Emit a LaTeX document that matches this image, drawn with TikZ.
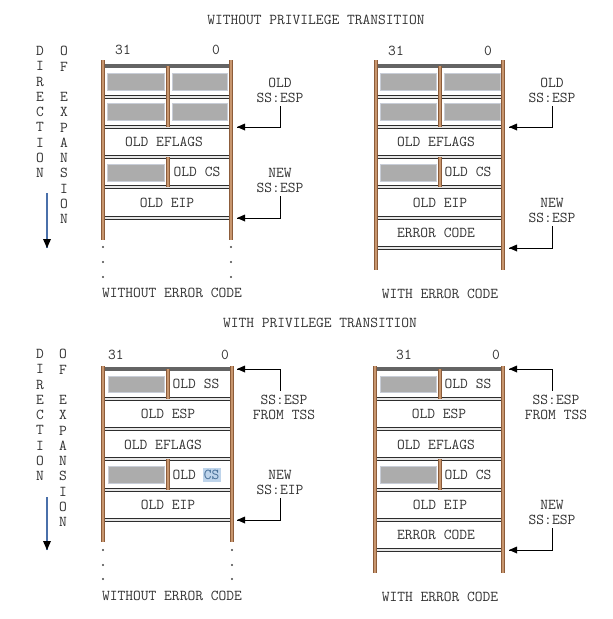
\documentclass[tikz,border=0pt]{standalone}
\usepackage{fontspec}

\tikzset{every picture/.style={line width=0.75pt}}
\tikzset{
  stacktxt/.style={text={rgb,255:red,50;green,50;blue,50}, font=\ttfamily\fontsize{11.3}{11.25}\selectfont, inner sep=0.75pt, align=center},
  lettercol/.style={stacktxt, font=\ttfamily\fontsize{11.3}{11.44}\selectfont, anchor=north},
  stackbar/.style={draw={rgb,255:red,140;green,92;blue,58}, double={rgb,255:red,200;green,150;blue,110}, line width=0.6pt, double distance=1.2pt},
  slotline/.style={draw={rgb,255:red,45;green,45;blue,45}, double={rgb,255:red,230;green,230;blue,230}, line width=0.8pt, double distance=0.8pt},
  topline/.style={draw={rgb,255:red,100;green,100;blue,100}, line width=2.4pt},
  padbox/.style={fill={rgb,255:red,172;green,172;blue,172}, draw={rgb,255:red,200;green,205;blue,215}, line width=0.4pt},
  tiphead/.style={fill={rgb,255:red,0;green,0;blue,0}, line width=0.08, draw opacity=0},
  dirline/.style={draw={rgb,255:red,74;green,112;blue,170}, line width=1.1pt},
  dotmark/.style={fill={rgb,255:red,70;green,70;blue,70}},
}

\begin{document}
\begin{tikzpicture}[x=0.75pt,y=0.75pt,yscale=-1,xscale=1]
\useasboundingbox (0,0) rectangle (612,619);

% ---------------- without privilege transition ----------------
% Text Node
\draw (316,20) node [stacktxt] (ttlNoPriv) {WITHOUT PRIVILEGE TRANSITION};
% Text Node
\draw (40,45) node [lettercol] (dirNoPriv) {D\\I\\R\\E\\C\\T\\I\\O\\N};
% Text Node
\draw (64,45) node [lettercol] (expNoPriv) {O\\F\\~\\E\\X\\P\\A\\N\\S\\I\\O\\N};
%Straight Lines
\coordinate (dirTipA) at (47,248);
\draw [dirline] (47,193) -- (dirTipA);
\draw [shift={(dirTipA)}, rotate=-90][tiphead] (9,-4) -- (0,0) -- (9,4) -- cycle;

%Shape: Rectangle (stack without error code)
\draw [padbox] (107,73) rectangle (164,90);
\draw [padbox] (172,73) rectangle (227,90);
\draw [padbox] (107,103) rectangle (164,120);
\draw [padbox] (172,103) rectangle (227,120);
\draw [padbox] (107,164) rectangle (164,181);
%Straight Lines
\draw [topline] (103,66) -- (231,66);
\draw [slotline] (103,97) -- (231,97);
\draw [slotline] (103,127) -- (231,127);
\draw [slotline] (103,157) -- (231,157);
\draw [slotline] (103,187) -- (231,187);
\draw [slotline] (103,218) -- (231,218);
\draw [stackbar] (168,66) -- (168,127);
\draw [stackbar] (168,157) -- (168,187);
\draw [stackbar] (103,60) -- (103,240);
\draw [stackbar] (231,60) -- (231,240);
%Shape: Circle
\fill [dotmark] (103,247) circle (1.1);
\fill [dotmark] (103,262) circle (1.1);
\fill [dotmark] (103,277) circle (1.1);
\fill [dotmark] (231,247) circle (1.1);
\fill [dotmark] (231,262) circle (1.1);
\fill [dotmark] (231,277) circle (1.1);
% Text Node
\draw (123,50) node [stacktxt] (hiA) {31};
\draw (216,50) node [stacktxt] (loA) {0};
\draw (164,142) node [stacktxt] (eflA) {OLD EFLAGS};
\draw (197,172) node [stacktxt] (csA) {OLD CS};
\draw (167,203) node [stacktxt] (eipA) {OLD EIP};
\draw (172,293) node [stacktxt] (capA) {WITHOUT ERROR CODE};
\draw (280,90) node [stacktxt] (oldEspA) {OLD\\SS:ESP};
\draw (280,180) node [stacktxt] (newEspA) {NEW\\SS:ESP};
%Straight Lines
\coordinate (tipA1) at (237,127);
\coordinate (tipA2) at (237,218);
\draw [shorten <=2pt] (oldEspA.south) |- (tipA1);
\draw [shift={(tipA1)}][tiphead] (8,-3.5) -- (0,0) -- (8,3.5) -- cycle;
\draw [shorten <=2pt] (newEspA.south) |- (tipA2);
\draw [shift={(tipA2)}][tiphead] (8,-3.5) -- (0,0) -- (8,3.5) -- cycle;

%Shape: Rectangle (stack with error code)
\draw [padbox] (380,73) rectangle (436,90);
\draw [padbox] (444,73) rectangle (500,90);
\draw [padbox] (380,103) rectangle (436,120);
\draw [padbox] (444,103) rectangle (500,120);
\draw [padbox] (380,164) rectangle (436,181);
%Straight Lines
\draw [topline] (376,66) -- (503,66);
\draw [slotline] (376,97) -- (503,97);
\draw [slotline] (376,127) -- (503,127);
\draw [slotline] (376,157) -- (503,157);
\draw [slotline] (376,187) -- (503,187);
\draw [slotline] (376,218) -- (503,218);
\draw [slotline] (376,248) -- (503,248);
\draw [stackbar] (440,66) -- (440,127);
\draw [stackbar] (440,157) -- (440,187);
\draw [stackbar] (376,60) -- (376,270);
\draw [stackbar] (503,60) -- (503,270);
% Text Node
\draw (396,51) node [stacktxt] (hiB) {31};
\draw (488,51) node [stacktxt] (loB) {0};
\draw (436,142) node [stacktxt] (eflB) {OLD EFLAGS};
\draw (468,172) node [stacktxt] (csB) {OLD CS};
\draw (440,203) node [stacktxt] (eipB) {OLD EIP};
\draw (436,233) node [stacktxt] (errB) {ERROR CODE};
\draw (440,294) node [stacktxt] (capB) {WITH ERROR CODE};
\draw (552,90) node [stacktxt] (oldEspB) {OLD\\SS:ESP};
\draw (552,210) node [stacktxt] (newEspB) {NEW\\SS:ESP};
%Straight Lines
\coordinate (tipB1) at (509,127);
\coordinate (tipB2) at (509,248);
\draw [shorten <=2pt] (oldEspB.south) |- (tipB1);
\draw [shift={(tipB1)}][tiphead] (8,-3.5) -- (0,0) -- (8,3.5) -- cycle;
\draw [shorten <=2pt] (newEspB.south) |- (tipB2);
\draw [shift={(tipB2)}][tiphead] (8,-3.5) -- (0,0) -- (8,3.5) -- cycle;

% ---------------- with privilege transition ----------------
% Text Node
\draw (320,323) node [stacktxt] (ttlPriv) {WITH PRIVILEGE TRANSITION};
% Text Node
\draw (40,348) node [lettercol] (dirPriv) {D\\I\\R\\E\\C\\T\\I\\O\\N};
% Text Node
\draw (63,348) node [lettercol] (expPriv) {O\\F\\~\\E\\X\\P\\A\\N\\S\\I\\O\\N};
%Straight Lines
\coordinate (dirTipC) at (47,550);
\draw [dirline] (47,497) -- (dirTipC);
\draw [shift={(dirTipC)}, rotate=-90][tiphead] (9,-4) -- (0,0) -- (9,4) -- cycle;

%Shape: Rectangle (stack without error code)
\draw [padbox] (108,376) rectangle (164,392);
\draw [padbox] (108,466) rectangle (164,483);
\fill [fill={rgb,255:red,190;green,212;blue,235}] (203,468) rectangle (221,482);
%Straight Lines
\draw [topline] (103,369) -- (232,369);
\draw [slotline] (103,399) -- (232,399);
\draw [slotline] (103,429) -- (232,429);
\draw [slotline] (103,459) -- (232,459);
\draw [slotline] (103,490) -- (232,490);
\draw [slotline] (103,520) -- (232,520);
\draw [stackbar] (168,369) -- (168,399);
\draw [stackbar] (168,459) -- (168,490);
\draw [stackbar] (103,366) -- (103,542);
\draw [stackbar] (232,366) -- (232,542);
%Shape: Circle
\fill [dotmark] (103,550) circle (1.1);
\fill [dotmark] (103,565) circle (1.1);
\fill [dotmark] (103,579) circle (1.1);
\fill [dotmark] (232,550) circle (1.1);
\fill [dotmark] (232,565) circle (1.1);
\fill [dotmark] (232,579) circle (1.1);
% Text Node
\draw (116,355) node [stacktxt] (hiC) {31};
\draw (225,355) node [stacktxt] (loC) {0};
\draw (196,384) node [stacktxt] (ssC) {OLD SS};
\draw (168,414) node [stacktxt] (espC) {OLD ESP};
\draw (163,445) node [stacktxt] (eflC) {OLD EFLAGS};
\draw (196,475) node [stacktxt] (csC) {OLD \textcolor[RGB]{70,110,150}{CS}};
\draw (168,505) node [stacktxt] (eipC) {OLD EIP};
\draw (172,596) node [stacktxt] (capC) {WITHOUT ERROR CODE};
\draw (284,407) node [stacktxt] (tssEspC) {SS:ESP\\FROM TSS};
\draw (280,482) node [stacktxt] (newEipC) {NEW\\SS:EIP};
%Straight Lines
\coordinate (tipC1) at (237,369);
\coordinate (tipC2) at (237,520);
\draw [shorten <=2pt] ([xshift=-3pt]tssEspC.north) |- (tipC1);
\draw [shift={(tipC1)}][tiphead] (8,-3.5) -- (0,0) -- (8,3.5) -- cycle;
\draw [shorten <=2pt] (newEipC.south) |- (tipC2);
\draw [shift={(tipC2)}][tiphead] (8,-3.5) -- (0,0) -- (8,3.5) -- cycle;

%Shape: Rectangle (stack with error code)
\draw [padbox] (380,376) rectangle (436,392);
\draw [padbox] (380,466) rectangle (436,483);
%Straight Lines
\draw [topline] (375,369) -- (503,369);
\draw [slotline] (375,399) -- (503,399);
\draw [slotline] (375,429) -- (503,429);
\draw [slotline] (375,459) -- (503,459);
\draw [slotline] (375,490) -- (503,490);
\draw [slotline] (375,520) -- (503,520);
\draw [slotline] (375,550) -- (503,550);
\draw [stackbar] (440,369) -- (440,399);
\draw [stackbar] (440,459) -- (440,490);
\draw [stackbar] (375,366) -- (375,573);
\draw [stackbar] (503,366) -- (503,573);
% Text Node
\draw (404,355) node [stacktxt] (hiD) {31};
\draw (496,355) node [stacktxt] (loD) {0};
\draw (468,384) node [stacktxt] (ssD) {OLD SS};
\draw (439,414) node [stacktxt] (espD) {OLD ESP};
\draw (436,445) node [stacktxt] (eflD) {OLD EFLAGS};
\draw (468,475) node [stacktxt] (csD) {OLD CS};
\draw (440,505) node [stacktxt] (eipD) {OLD EIP};
\draw (436,535) node [stacktxt] (errD) {ERROR CODE};
\draw (440,597) node [stacktxt] (capD) {WITH ERROR CODE};
\draw (556,407) node [stacktxt] (tssEspD) {SS:ESP\\FROM TSS};
\draw (552,512) node [stacktxt] (newEspD) {NEW\\SS:ESP};
%Straight Lines
\coordinate (tipD1) at (509,369);
\coordinate (tipD2) at (509,550);
\draw [shorten <=2pt] ([xshift=-3pt]tssEspD.north) |- (tipD1);
\draw [shift={(tipD1)}][tiphead] (8,-3.5) -- (0,0) -- (8,3.5) -- cycle;
\draw [shorten <=2pt] (newEspD.south) |- (tipD2);
\draw [shift={(tipD2)}][tiphead] (8,-3.5) -- (0,0) -- (8,3.5) -- cycle;

\end{tikzpicture}
\end{document}
